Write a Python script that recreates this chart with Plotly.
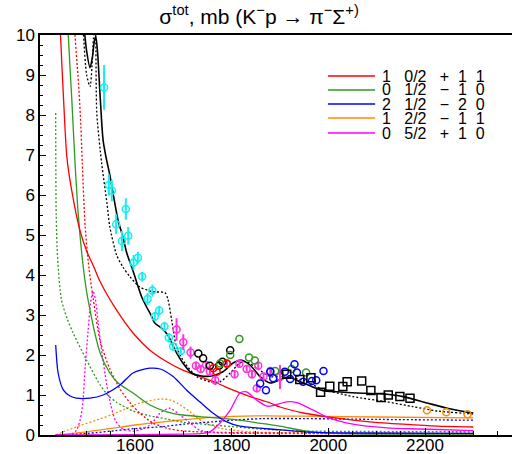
import plotly.graph_objects as go

FONT = "Liberation Sans, Arial, sans-serif"

# ---------------- model curves: mass W (MeV) vs sigma (mb) ----------------
tot_x = [1470, 1485, 1494, 1500, 1507, 1512, 1516, 1519, 1523, 1528, 1534, 1540, 1548, 1556, 1565,
         1575, 1583, 1596, 1604, 1614, 1624, 1633, 1641, 1655, 1668, 1683, 1699, 1717, 1735, 1761,
         1782, 1803, 1821, 1838, 1859, 1880, 1900, 1917, 1942, 1962, 1989, 2018, 2059, 2107, 2155,
         2204, 2246, 2294, 2300]
tot_y = [16, 12, 10.3, 9.6, 9.18, 9.45, 9.85, 9.96, 9.5, 8.45, 7.37, 6.95, 6.5, 5.95, 5.37,
         4.95, 4.55, 4.1, 3.8, 3.45, 3.2, 3.0, 2.8, 2.67, 2.5, 2.12, 1.8, 1.55, 1.48, 1.48,
         1.58, 1.8, 1.87, 1.75, 1.46, 1.3, 1.38, 1.45, 1.33, 1.23, 1.11, 1.08, 1.05, 1.03, 0.96,
         0.8, 0.67, 0.56, 0.55]

tot2_x = [1470, 1486, 1493, 1500, 1507, 1511, 1514, 1518, 1521, 1531, 1542, 1548, 1562, 1575, 1590,
          1610, 1637, 1662, 1668, 1676, 1686, 1703, 1728, 1755, 1776, 1797, 1817, 1831, 1852, 1880,
          1900, 1948, 1983, 2051, 2121, 2175, 2225, 2294, 2300]
tot2_y = [16, 11.5, 10.1, 9.0, 8.71, 9.2, 9.9, 10.3, 8.05, 6.8, 5.8, 5.2, 4.5, 4.2, 3.95,
          3.7, 3.58, 3.56, 3.4, 2.87, 2.2, 1.8, 1.46, 1.33, 1.33, 1.55, 1.8, 1.83, 1.67, 1.46,
          1.46, 1.37, 1.17, 0.96, 0.83, 0.71, 0.6, 0.53, 0.52]

red_x = [1436, 1441, 1446, 1452, 1459, 1469, 1486, 1500, 1515, 1528, 1562, 1596, 1631, 1666, 1699,
         1734, 1769, 1803, 1838, 1880, 1900, 1948, 2018, 2086, 2155, 2225, 2300]
red_y = [16, 12, 10, 8.46, 6.96, 6.12, 5.12, 4.6, 4.2, 3.83, 3.12, 2.55, 2.12, 1.83, 1.62,
         1.46, 1.3, 1.12, 0.96, 0.8, 0.7, 0.55, 0.42, 0.33, 0.27, 0.22, 0.2]

red2_x = [1465, 1472, 1476, 1482, 1487, 1491, 1497, 1505, 1514, 1528, 1548, 1569, 1590, 1610, 1637,
          1666, 1700, 1800, 1950, 2300]
red2_y = [18, 12, 10, 9.0, 8.0, 6.8, 5.2, 4.15, 3.37, 2.35, 1.65, 1.15, 0.8, 0.55, 0.3,
          0.17, 0.1, 0.06, 0.05, 0.04]

green_x = [1450, 1457, 1462, 1469, 1476, 1483, 1494, 1503, 1528, 1548, 1565, 1596, 1631, 1666, 1699,
           1734, 1803, 1873, 1900, 1948, 1983, 2050, 2300]
green_y = [16, 12, 10, 8.46, 6.8, 5.46, 4.1, 3.37, 2.05, 1.55, 1.3, 1.05, 0.75, 0.58, 0.5,
           0.46, 0.39, 0.27, 0.22, 0.11, 0.06, 0.03, 0.02]

green2_x = [1436, 1437, 1440, 1448, 1460, 1472, 1500, 1528, 1545, 1562, 1596, 1630, 1666, 1700, 1750,
            1800, 1870, 1950, 2050, 2300]
green2_y = [8.05, 5.5, 4.4, 3.37, 2.9, 2.55, 1.87, 1.25, 0.98, 0.82, 0.6, 0.48, 0.4, 0.32, 0.26,
            0.21, 0.14, 0.1, 0.09, 0.08]

blue_x = [1436, 1441, 1452, 1465, 1479, 1507, 1534, 1569, 1596, 1631, 1652, 1679, 1707, 1734, 1761,
          1790, 1817, 1859, 1880, 1950, 2050, 2300]
blue_y = [2.25, 1.55, 1.12, 0.98, 0.92, 0.92, 1.0, 1.25, 1.55, 1.67, 1.65, 1.46, 1.12, 0.83, 0.55,
          0.33, 0.22, 0.17, 0.15, 0.08, 0.05, 0.04]

blue2_x = [1436, 1480, 1520, 1560, 1600, 1658, 1700, 1761, 1800, 1865, 1950, 2100, 2300]
blue2_y = [0.0, 0.02, 0.06, 0.11, 0.16, 0.21, 0.27, 0.33, 0.37, 0.41, 0.41, 0.39, 0.37]

orange_x = [1436, 1500, 1555, 1600, 1658, 1700, 1761, 1865, 1950, 2100, 2300]
orange_y = [0.0, 0.08, 0.17, 0.25, 0.33, 0.38, 0.44, 0.48, 0.47, 0.45, 0.43]

orange2_x = [1436, 1460, 1490, 1520, 1550, 1580, 1610, 1640, 1655, 1675, 1690, 1714, 1741, 1776, 1838,
             1950, 2300]
orange2_y = [0.0, 0.12, 0.25, 0.37, 0.5, 0.65, 0.8, 0.88, 0.9, 0.87, 0.78, 0.58, 0.33, 0.17, 0.08,
             0.05, 0.03]

mag_x = [1436, 1600, 1700, 1740, 1755, 1776, 1797, 1817, 1831, 1852, 1873, 1890, 1914, 1935, 1969,
         2003, 2051, 2121, 2190, 2300]
mag_y = [0.0, 0.01, 0.02, 0.04, 0.08, 0.3, 0.62, 1.05, 1.08, 0.87, 0.72, 0.75, 0.83, 0.81, 0.62,
         0.42, 0.27, 0.18, 0.15, 0.11]

mag2_x = [1436, 1470, 1479, 1487, 1492, 1497, 1503, 1508, 1513, 1518, 1524, 1530, 1541, 1550, 1560,
          1575, 1600, 1631, 1652, 1672, 1693, 1714, 1734, 1760, 1850, 2300]
mag2_y = [0.0, 0.03, 0.12, 0.4, 0.8, 1.7, 2.6, 3.3, 3.6, 3.4, 2.8, 2.2, 1.3, 0.75, 0.35,
          0.15, 0.1, 0.25, 0.55, 0.67, 0.5, 0.3, 0.12, 0.06, 0.04, 0.03]

# ---------------- experimental points ----------------
cyan_x = [1536, 1546, 1552, 1561, 1573, 1581, 1586, 1597, 1606, 1615, 1626, 1636, 1641, 1650, 1661,
          1670, 1679, 1695]
cyan_y = [8.69, 6.25, 6.11, 5.27, 4.85, 5.65, 4.98, 4.31, 4.43, 3.96, 3.40, 3.61, 2.96, 3.11, 2.71,
          2.43, 2.21, 2.10]
cyan_e = [0.56, 0.27, 0.27, 0.25, 0.25, 0.27, 0.22, 0.19, 0.15, 0.12, 0.15, 0.15, 0.12, 0.12, 0.12,
          0.12, 0.10, 0.10]

pink_x = [1686, 1700, 1715, 1726, 1736, 1747, 1755, 1766, 1790, 1806, 1816, 1831, 1842, 1852, 1855,
          1866, 1880, 1900]
pink_y = [2.64, 2.32, 2.06, 1.73, 1.65, 1.75, 1.58, 1.37, 1.78, 1.52, 1.78, 1.65, 1.52, 1.17, 1.73,
          1.46, 1.60, 1.45]
pink_e = [0.28, 0.2, 0.15, 0.1, 0.1, 0.1, 0.1, 0.12, 0.1, 0.1, 0.1, 0.1, 0.1, 0.1, 0.1,
          0.1, 0.1, 0.3]

bcirc_x = [1731, 1741, 1755, 1774, 1781, 1797]
bcirc_y = [2.04, 1.92, 1.73, 1.73, 1.83, 2.12]

rcirc_x = [1762, 1769, 1790]
rcirc_y = [1.67, 1.58, 1.79]

gcirc_x = [1776, 1797, 1816, 1836, 1848, 1890, 1924, 1954]
gcirc_y = [1.79, 2.0, 2.4, 1.94, 1.86, 1.6, 1.65, 1.56]

bl_x = [1859, 1871, 1880, 1886, 1910, 1921, 1930, 1935, 1948, 1966, 1975, 1990]
bl_y = [1.29, 1.12, 1.58, 1.42, 1.58, 1.4, 1.77, 1.56, 1.33, 1.35, 1.37, 1.6]

sq_x = [1914, 1941, 1964, 1984, 2003, 2030, 2039, 2069, 2088, 2109, 2124, 2148, 2169]
sq_y = [1.52, 1.39, 1.43, 1.07, 1.22, 1.21, 1.33, 1.35, 1.11, 0.94, 1.0, 0.96, 0.92]

ocirc_x = [2204, 2244, 2288]
ocirc_y = [0.62, 0.57, 0.52]

# ---------------- legend labels ----------------
legend_colors = ["#ff0000", "#2e9a1e", "#0000ff", "#ff8c00", "#ff00ff"]
legend_labels = ["1   0/2   +  1  1",
                 "0   1/2   \u2212  1  0",
                 "2   1/2   \u2212  2  0",
                 "1   2/2   \u2212  1  1",
                 "0   5/2   +  1  0"]

RED, GREEN, BLUE, ORANGE, MAG = legend_colors
CYAN = "#10f0f0"
PINK = "#ff33dd"

fig = go.Figure()


def curve(x, y, color, dash=None, width=1.3):
    fig.add_trace(go.Scatter(x=x, y=y, mode="lines", showlegend=False, hoverinfo="skip",
                             line=dict(color=color, width=width, dash=dash,
                                       shape="spline", smoothing=0.7)))


DOT = "2px,2px"
curve(orange_x, orange_y, ORANGE)
curve(orange2_x, orange2_y, ORANGE, DOT)
curve(blue2_x, blue2_y, BLUE, DOT)
curve(green2_x, green2_y, GREEN, DOT)
curve(red2_x, red2_y, RED, DOT)
curve(mag2_x, mag2_y, MAG, DOT)
curve(green_x, green_y, GREEN)
curve(blue_x, blue_y, BLUE)
curve(red_x, red_y, RED)
curve(mag_x, mag_y, MAG)
curve(tot2_x, tot2_y, "black", DOT, 1.3)
curve(tot_x, tot_y, "black", None, 1.6)


def points(x, y, color, symbol="circle-open", size=7, err=None):
    kw = {}
    if err is not None:
        kw["error_y"] = dict(type="data", array=err, visible=True, color=color,
                             thickness=2, width=0)
    fig.add_trace(go.Scatter(x=x, y=y, mode="markers", showlegend=False, hoverinfo="skip",
                             marker=dict(symbol=symbol, size=size, color=color,
                                         line=dict(width=1.5, color=color)), **kw))


points(cyan_x, cyan_y, CYAN, err=cyan_e)
points(pink_x, pink_y, PINK, err=pink_e)
points(bcirc_x, bcirc_y, "black")
points(rcirc_x, rcirc_y, RED)
points(gcirc_x, gcirc_y, GREEN)
points(bl_x, bl_y, BLUE)
points(sq_x, sq_y, "black", symbol="square-open", size=8)
points(ocirc_x, ocirc_y, ORANGE)

# ---------------- legend (drawn as layout decorations) ----------------
row_y = [0.8975, 0.8625, 0.8275, 0.7925, 0.755]
shapes = []
annotations = []
for i, c in enumerate(legend_colors):
    shapes.append(dict(type="line", xref="paper", yref="paper", x0=0.61, x1=0.71,
                       y0=row_y[i], y1=row_y[i], line=dict(color=c, width=1.5)))
    annotations.append(dict(xref="paper", yref="paper", x=0.7214, y=row_y[i],
                            text=legend_labels[i].replace(" ", "\u00a0"), showarrow=False,
                            xanchor="left", yanchor="middle", borderpad=0,
                            font=dict(family=FONT, size=16, color="black")))

fig.update_layout(
    width=512, height=454,
    margin=dict(l=40, r=0, t=35, b=19, autoexpand=False),
    paper_bgcolor="white", plot_bgcolor="white",
    font=dict(family=FONT, size=17, color="black"),
    title=dict(text="\u03c3<sup>tot</sup>, mb (K<sup>\u2212</sup>p \u2192 \u03c0<sup>\u2212</sup>\u03a3<sup>+)</sup>",
               x=0.506, xanchor="center", y=0.963, yanchor="middle", yref="container",
               font=dict(family=FONT, size=21, color="black")),
    xaxis=dict(range=[1403.5, 2380], tickmode="linear", tick0=1600, dtick=200,
               ticks="inside", ticklen=7, tickwidth=1, tickcolor="black",
               showline=True, linecolor="black", linewidth=1.5, mirror=True,
               showgrid=False, zeroline=False, automargin=False, ticklabelstandoff=-6,
               minor=dict(dtick=50, tick0=1600, ticks="inside", ticklen=4, tickcolor="black",
                          showgrid=False),
               tickfont=dict(family=FONT, size=17, color="black")),
    yaxis=dict(range=[0, 10], tickmode="linear", tick0=0, dtick=1,
               ticks="inside", ticklen=6, tickwidth=1, tickcolor="black",
               showline=True, linecolor="black", linewidth=1.5, mirror=False,
               showgrid=False, zeroline=False, automargin=False,
               minor=dict(dtick=0.25, ticks="inside", ticklen=3, tickcolor="black",
                          showgrid=False),
               tickfont=dict(family=FONT, size=17, color="black")),
    shapes=shapes, annotations=annotations,
)

fig.write_html("out.html")
